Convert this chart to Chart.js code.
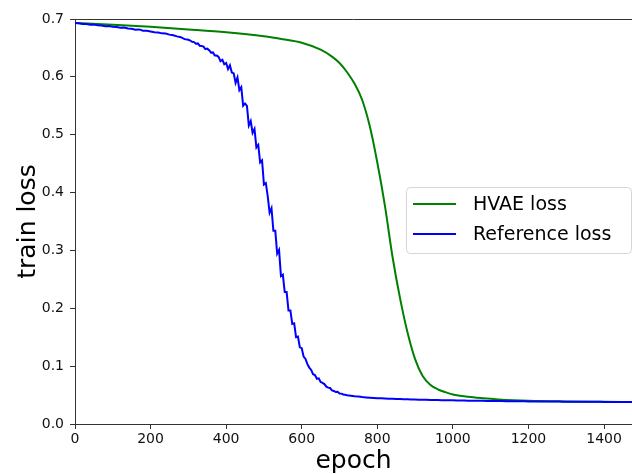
<!DOCTYPE html>
<html>
<head>
<meta charset="utf-8">
<script src="https://cdn.jsdelivr.net/npm/chart.js@4.4.1/dist/chart.umd.min.js"></script>
<style>
  html, body { margin: 0; padding: 0; background: #fff; }
  #wrap { width: 632px; height: 474px; position: relative; }
</style>
</head>
<body>
<div id="wrap"><canvas id="lossChart"></canvas></div>
<script>
// Curva de referencia (ruidosa): cada 10 epochs, cada 5 en la zona de caída
const refEpochs = [
  0,10,20,30,40,50,60,70,80,90,100,110,120,130,140,150,160,170,180,190,
  200,210,220,230,240,250,260,270,280,290,
  300,305,310,315,320,325,330,335,340,345,350,355,360,365,370,375,380,385,390,395,
  400,405,410,415,420,425,430,435,440,445,450,455,460,465,470,475,480,485,490,495,
  500,505,510,515,520,525,530,535,540,545,550,555,560,565,570,575,580,585,590,595,
  600,605,610,615,620,625,630,635,640,645,650,655,660,665,670,675,680,685,690,695,
  700,705,710,715,720,
  730,740,750,760,770,780,790,800,810,820,830,840,850,860,870,880,890,900,910,920,
  930,940,950,960,970,980,990,1000,1010,1020,1030,1040,1050,1060,1070,1080,1090,1100,1110,1120,
  1130,1140,1150,1160,1170,1180,1190,1200,1210,1220,1230,1240,1250,1260,1270,1280,1290,1300,1310,1320,
  1330,1340,1350,1360,1370,1380,1390,1400,1410,1420,1430,1440,1450,1460,1470,1480
];
const refLoss = [
  0.6930,0.6928,0.6915,0.6912,0.6900,0.6903,0.6890,0.6888,0.6875,0.6879,
  0.6865,0.6862,0.6850,0.6853,0.6835,0.6832,0.6815,0.6820,0.6798,0.6795,
  0.6785,0.6772,0.6768,0.6752,0.6748,0.6730,0.6718,0.6700,0.6685,0.6652,
  0.6642,0.6628,0.6605,0.6601,0.6572,0.6578,0.6538,0.6535,0.6522,0.6478,
  0.6488,0.6460,0.6418,0.6422,0.6370,0.6368,0.6345,0.6272,0.6295,0.6218,
  0.6240,0.6135,0.6200,0.6075,0.6060,0.5895,0.5990,0.5770,0.5820,0.5500,
  0.5540,0.5500,0.5160,0.5235,0.5030,0.5100,0.4780,0.4825,0.4520,0.4555,
  0.4140,0.4165,0.3940,0.3650,0.3730,0.3340,0.3340,0.2945,0.3010,0.2555,
  0.2580,0.2280,0.2280,0.1960,0.1960,0.1730,0.1740,0.1500,0.1510,0.1325,
  0.1310,0.1165,0.1125,0.1035,0.0975,0.0935,0.0860,0.0845,0.0782,0.0790,
  0.0725,0.0712,0.0690,0.0645,0.0628,0.0622,0.0580,0.0572,0.0552,0.0556,
  0.0528,0.0525,0.0510,0.0505,0.0496,
  0.0490,0.0478,0.0474,0.0465,0.0460,0.0455,0.0450,0.0446,0.0443,0.0440,
  0.0437,0.0436,0.0432,0.0430,0.0428,0.0427,0.0424,0.0422,0.0421,0.0419,
  0.0418,0.0416,0.0415,0.0413,0.0412,0.0411,0.0410,0.0409,0.0407,0.0406,
  0.0405,0.0404,0.0403,0.0402,0.0401,0.0400,0.0399,0.0398,0.0397,0.0397,
  0.0396,0.0395,0.0394,0.0394,0.0393,0.0392,0.0392,0.0391,0.0390,0.0390,
  0.0389,0.0389,0.0388,0.0388,0.0387,0.0387,0.0386,0.0386,0.0385,0.0385,
  0.0385,0.0384,0.0384,0.0384,0.0383,0.0383,0.0383,0.0382,0.0382,0.0382,
  0.0381,0.0381,0.0381,0.0381,0.0380,0.0380
];

// Curva HVAE (suave)
const hvaeEpochs = [0,100,200,300,400,500,550,600,650,680,700,720,740,760,780,800,820,840,860,880,900,920,940,960,980,1000,1040,1080,1120,1160,1200,1300,1400,1480];
const hvaeLoss = [0.693,0.690,0.6865,0.682,0.677,0.670,0.665,0.659,0.647,0.635,0.624,0.608,0.588,0.560,0.515,0.452,0.378,0.290,0.218,0.158,0.112,0.083,0.068,0.060,0.055,0.051,0.047,0.0445,0.0425,0.041,0.040,0.039,0.0385,0.038];

const seriesLabels = ['HVAE loss', 'Reference loss'];
const seriesColors = ['#008000', '#0000ff'];
const xTicks = [0, 200, 400, 600, 800, 1000, 1200, 1400];
const yTicks = [0, 0.1, 0.2, 0.3, 0.4, 0.5, 0.6, 0.7];

const toPoints = (xs, ys) => xs.map((x, i) => ({ x: x, y: ys[i] }));

// Borde superior del área de la gráfica
const topSpine = {
  id: 'topSpine',
  afterDatasetsDraw(chart) {
    const { ctx, chartArea } = chart;
    ctx.save();
    ctx.strokeStyle = '#333';
    ctx.lineWidth = 1;
    ctx.beginPath();
    ctx.moveTo(chartArea.left, chartArea.top + 0.5);
    ctx.lineTo(chartArea.right, chartArea.top + 0.5);
    ctx.stroke();
    ctx.restore();
  }
};

// Leyenda dentro del área, estilo matplotlib
const innerLegend = {
  id: 'innerLegend',
  afterDraw(chart) {
    const ctx = chart.ctx;
    const x = 406, y = 187, w = 225, h = 66, r = 4;
    ctx.save();
    ctx.fillStyle = 'rgba(255,255,255,0.8)';
    ctx.strokeStyle = '#d6d6d6';
    ctx.lineWidth = 1;
    ctx.beginPath();
    ctx.roundRect(x + 0.5, y + 0.5, w, h, r);
    ctx.fill();
    ctx.stroke();
    ctx.font = '19px "DejaVu Sans"';
    ctx.textBaseline = 'middle';
    ctx.fillStyle = '#000';
    const rows = [204, 234];
    seriesLabels.forEach((label, i) => {
      ctx.strokeStyle = seriesColors[i];
      ctx.lineWidth = 2;
      ctx.beginPath();
      ctx.moveTo(413, rows[i]);
      ctx.lineTo(456, rows[i]);
      ctx.stroke();
      ctx.fillText(label, 473, rows[i] + 1);
    });
    ctx.restore();
  }
};

new Chart(document.getElementById('lossChart').getContext('2d'), {
  type: 'line',
  data: {
    datasets: [
      {
        label: seriesLabels[0],
        data: toPoints(hvaeEpochs, hvaeLoss),
        borderColor: seriesColors[0],
        borderWidth: 2,
        pointRadius: 0,
        cubicInterpolationMode: 'monotone',
        fill: false,
        order: 1
      },
      {
        label: seriesLabels[1],
        data: toPoints(refEpochs, refLoss),
        borderColor: seriesColors[1],
        borderWidth: 2,
        pointRadius: 0,
        tension: 0,
        fill: false,
        order: 0
      }
    ]
  },
  options: {
    responsive: true,
    maintainAspectRatio: false,
    animation: false,
    layout: { padding: { top: 19, right: 0, left: 0, bottom: 0 } },
    plugins: { legend: { display: false }, tooltip: { enabled: false } },
    scales: {
      x: {
        type: 'linear',
        min: 0,
        max: 1474,
        afterBuildTicks: (scale) => { scale.ticks = xTicks.map(v => ({ value: v })); },
        afterFit: (scale) => { scale.height = 50; },
        ticks: {
          color: '#111',
          font: { family: 'DejaVu Sans', size: 14 },
          padding: 2,
          maxRotation: 0,
          callback: (v) => String(v)
        },
        grid: { drawOnChartArea: false, drawTicks: true, tickLength: 5, color: '#333' },
        border: { display: true, color: '#333', width: 1 },
        title: {
          display: true,
          text: 'epoch',
          color: '#000',
          font: { family: 'DejaVu Sans', size: 25, lineHeight: 1 },
          padding: 0
        }
      },
      y: {
        type: 'linear',
        min: 0,
        max: 0.7,
        afterBuildTicks: (scale) => { scale.ticks = yTicks.map(v => ({ value: v })); },
        afterFit: (scale) => { scale.width = 75; },
        ticks: {
          color: '#111',
          font: { family: 'DejaVu Sans', size: 14 },
          padding: 6,
          callback: (v) => v.toFixed(1)
        },
        grid: { drawOnChartArea: false, drawTicks: true, tickLength: 5, color: '#333' },
        border: { display: true, color: '#333', width: 1 },
        title: {
          display: true,
          text: 'train loss',
          color: '#000',
          font: { family: 'DejaVu Sans', size: 25, lineHeight: 1 },
          padding: { top: 16, bottom: 0 }
        }
      }
    }
  },
  plugins: [topSpine, innerLegend]
});
</script>
</body>
</html>
